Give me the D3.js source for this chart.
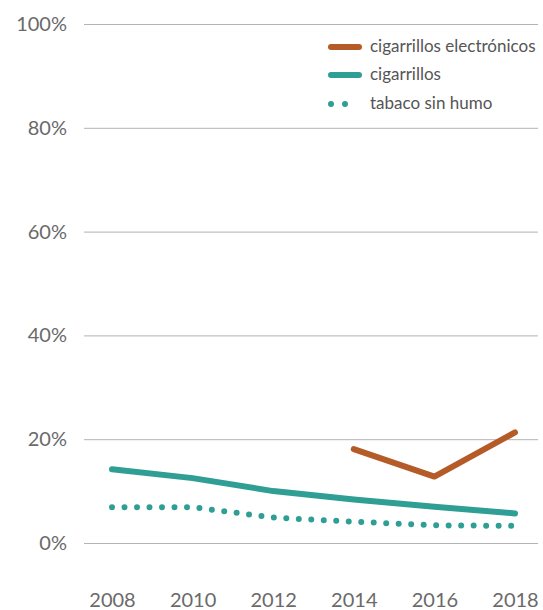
<!DOCTYPE html>
<html>
<head>
<meta charset="utf-8">
<script src="https://cdn.jsdelivr.net/npm/d3@7"></script>
<style>
  body { margin: 0; background: #fff; }
  text { font-family: Lato, "Open Sans", sans-serif; }
</style>
</head>
<body>
<div id="chart"></div>
<script>
const years = [2008, 2010, 2012, 2014, 2016, 2018];
const ecigYears = [2014, 2016, 2018];
const ecigValues = [18.1, 12.8, 21.3];
const cigValues = [14.2, 12.5, 10.0, 8.4, 7.0, 5.7];
const smokelessValues = [6.9, 6.9, 4.9, 4.1, 3.4, 3.3];
const yTicks = [0, 20, 40, 60, 80, 100];
const legendLabels = ["cigarrillos electrónicos", "cigarrillos", "tabaco sin humo"];

const orange = "#b55b27", teal = "#2f9e94";

const width = 543, height = 610;
const svg = d3.select("#chart").append("svg")
    .attr("width", width)
    .attr("height", height);

const x = d3.scaleLinear().domain([2008, 2018]).range([112, 515]);
const y = d3.scaleLinear().domain([0, 100]).range([543, 24]);

// grid + y labels
const yAxis = svg.append("g")
    .attr("transform", "translate(84,0)")
    .call(d3.axisLeft(y).tickValues(yTicks).tickSize(-454).tickFormat(d => d + "%"));
yAxis.select(".domain").remove();
yAxis.selectAll(".tick line").attr("stroke", "#b3b3b3").attr("stroke-width", 1);
yAxis.selectAll(".tick text")
    .attr("x", -17)
    .attr("fill", "#6a6a6a")
    .style("font-size", "20px");

// x labels
const xAxis = svg.append("g")
    .attr("transform", "translate(0,600)")
    .call(d3.axisBottom(x).tickValues(years).tickSize(0).tickFormat(d3.format("d")));
xAxis.select(".domain").remove();
xAxis.selectAll(".tick text")
    .attr("y", 0)
    .attr("dy", "0.35em")
    .attr("fill", "#6a6a6a")
    .style("font-size", "20px");

const line = d3.line().x(d => x(d[0])).y(d => y(d[1]));

svg.append("path")
    .datum(d3.zip(years, smokelessValues))
    .attr("d", line)
    .attr("fill", "none")
    .attr("stroke", teal)
    .attr("stroke-width", 6)
    .attr("stroke-linecap", "round")
    .attr("stroke-dasharray", "0 12.5");

svg.append("path")
    .datum(d3.zip(years, cigValues))
    .attr("d", line)
    .attr("fill", "none")
    .attr("stroke", teal)
    .attr("stroke-width", 6)
    .attr("stroke-linecap", "round")
    .attr("stroke-linejoin", "round");

svg.append("path")
    .datum(d3.zip(ecigYears, ecigValues))
    .attr("d", line)
    .attr("fill", "none")
    .attr("stroke", orange)
    .attr("stroke-width", 6)
    .attr("stroke-linecap", "round")
    .attr("stroke-linejoin", "round");

// legend
const legend = svg.append("g");
const legendY = [47, 75, 104];
const legendColors = [orange, teal, teal];
legendLabels.forEach((label, i) => {
  const g = legend.append("g").attr("transform", `translate(0,${legendY[i]})`);
  const ln = g.append("line")
      .attr("x1", 331).attr("x2", 359)
      .attr("stroke", legendColors[i])
      .attr("stroke-width", 6)
      .attr("stroke-linecap", "round");
  if (i === 2) ln.attr("stroke-dasharray", "0 14");
  g.append("text")
      .attr("x", 370)
      .attr("dy", "0.32em")
      .attr("fill", "#555")
      .style("font-size", "17px")
      .text(label);
});
</script>
</body>
</html>
